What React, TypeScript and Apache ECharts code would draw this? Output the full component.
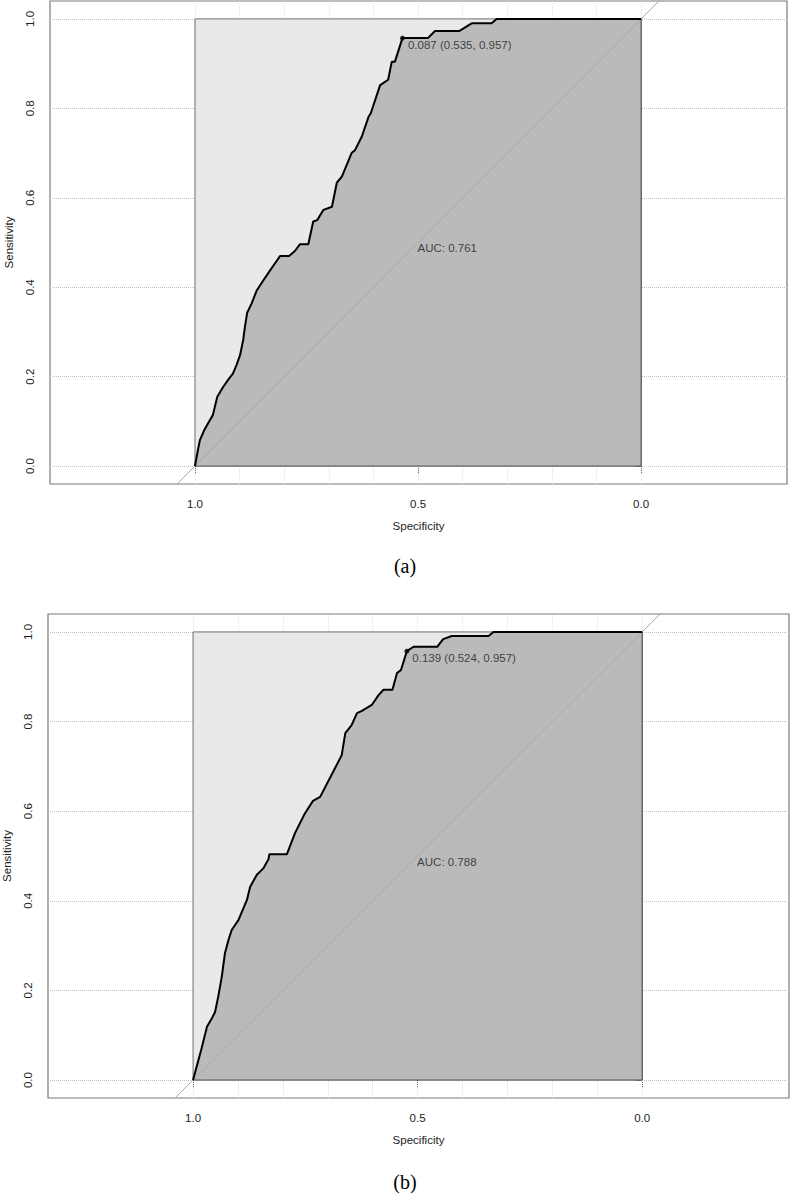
import React, { useEffect, useRef } from "react";
import * as echarts from "echarts";

// ---------- data ----------
// Panel (a) ROC curve: specificity / sensitivity
const specA = [1.000, 0.995, 0.989, 0.980, 0.970, 0.960, 0.950, 0.937, 0.925, 0.915, 0.907, 0.899, 0.892, 0.888, 0.883, 0.873, 0.862, 0.847, 0.832, 0.821, 0.809, 0.789, 0.776, 0.765, 0.746, 0.735, 0.726, 0.712, 0.693, 0.682, 0.671, 0.649, 0.641, 0.626, 0.611, 0.606, 0.585, 0.567, 0.559, 0.552, 0.535, 0.478, 0.462, 0.407, 0.380, 0.335, 0.324, 0.000];
const sensA = [0.000, 0.028, 0.058, 0.079, 0.097, 0.114, 0.155, 0.177, 0.194, 0.207, 0.226, 0.248, 0.282, 0.312, 0.343, 0.364, 0.392, 0.415, 0.437, 0.453, 0.470, 0.470, 0.481, 0.496, 0.496, 0.547, 0.550, 0.573, 0.580, 0.634, 0.647, 0.700, 0.707, 0.737, 0.781, 0.789, 0.852, 0.864, 0.904, 0.904, 0.957, 0.957, 0.973, 0.973, 0.990, 0.990, 1.000, 1.000];
// Panel (b) ROC curve
const specB = [1.000, 0.992, 0.982, 0.969, 0.958, 0.951, 0.944, 0.936, 0.929, 0.921, 0.914, 0.899, 0.888, 0.880, 0.873, 0.858, 0.843, 0.832, 0.830, 0.791, 0.773, 0.751, 0.733, 0.717, 0.688, 0.669, 0.661, 0.647, 0.635, 0.624, 0.602, 0.587, 0.576, 0.556, 0.546, 0.537, 0.524, 0.509, 0.456, 0.443, 0.424, 0.342, 0.331, 0.000];
const sensB = [0.000, 0.030, 0.067, 0.119, 0.138, 0.152, 0.186, 0.231, 0.283, 0.313, 0.335, 0.357, 0.383, 0.402, 0.431, 0.458, 0.473, 0.493, 0.504, 0.504, 0.551, 0.595, 0.623, 0.632, 0.688, 0.725, 0.774, 0.792, 0.819, 0.824, 0.837, 0.859, 0.871, 0.871, 0.908, 0.915, 0.957, 0.967, 0.967, 0.984, 0.991, 0.991, 1.000, 1.000];

// best thresholds: [threshold, specificity, sensitivity]
const thresholdA = [0.087, 0.535, 0.957];
const thresholdB = [0.139, 0.524, 0.957];
const aucValues = [0.761, 0.788];
const panelLabels = ["(a)", "(b)"];

// axes
const xTickValues = [1.0, 0.5, 0.0];
const yTickValues = [0.0, 0.2, 0.4, 0.6, 0.8, 1.0];
const vGridValues = [0.0, 0.1, 0.2, 0.3, 0.4, 0.5, 0.6, 0.7, 0.8, 0.9, 1.0];
const hGridValues = [0.0, 0.2, 0.4, 0.6, 0.8, 1.0];
const xAxisTitle = "Specificity";
const yAxisTitle = "Sensitivity";

// full-area rectangle (max AUC polygon) and identity line
const maxPolySpec = [1, 1, 0, 0];
const maxPolySens = [0, 1, 1, 0];
const aucBorderSpec = [1, 0, 0];
const aucBorderSens = [0, 0, 1];
const diagSpec = [1.5, -0.5];
const diagSens = [-0.5, 1.5];
const aucTextPos = [0.5, 0.5];

const FONT = "'Liberation Sans', Arial, Helvetica, sans-serif";
const zip = (a: number[], b: number[]) => a.map((v, i) => [v, b[i]]);

export default function App() {
  const ref = useRef<HTMLDivElement>(null);

  useEffect(() => {
    if (!ref.current) return;
    const chart = echarts.init(ref.current, undefined, { renderer: "svg" });

    const panels = [
      { spec: specA, sens: sensA, thr: thresholdA, auc: aucValues[0], grid: { left: 50, top: 1, width: 737, height: 483 }, xMin: -0.327, xMax: 1.325, labelY: 566 },
      { spec: specB, sens: sensB, thr: thresholdB, auc: aucValues[1], grid: { left: 48, top: 614, width: 741, height: 484 }, xMin: -0.327, xMax: 1.323, labelY: 1182 },
    ];

    const grids: any[] = [];
    const xAxes: any[] = [];
    const yAxes: any[] = [];
    const series: any[] = [];
    const graphics: any[] = [];

    panels.forEach((p, i) => {
      grids.push({
        ...p.grid,
        show: true,
        borderColor: "#7a7a7a",
        borderWidth: 1.2,
        backgroundColor: "transparent",
        containLabel: false,
        outerBoundsMode: "none",
      });
      xAxes.push({
        type: "value",
        gridIndex: i,
        inverse: true,
        min: p.xMin,
        max: p.xMax,
        axisLine: { show: false },
        splitLine: { show: false },
        axisTick: { show: true, customValues: xTickValues, length: 7, lineStyle: { color: "#6a6a6a", width: 1 } },
        axisLabel: {
          customValues: xTickValues,
          formatter: (v: number) => v.toFixed(1),
          margin: 14,
          fontFamily: FONT,
          fontSize: 11.5,
          color: "#222",
        },
        name: xAxisTitle,
        nameLocation: "middle",
        nameGap: 36,
        nameTextStyle: { fontFamily: FONT, fontSize: 11.5, color: "#222" },
      });
      yAxes.push({
        type: "value",
        gridIndex: i,
        min: -0.04,
        max: 1.04,
        axisLine: { show: false },
        splitLine: { show: false },
        axisTick: { show: true, customValues: yTickValues, length: 7, lineStyle: { color: "#6a6a6a", width: 1 } },
        axisLabel: {
          customValues: yTickValues,
          formatter: (v: number) => v.toFixed(1),
          rotate: 90,
          margin: 14,
          fontFamily: FONT,
          fontSize: 11.5,
          color: "#222",
        },
        name: yAxisTitle,
        nameLocation: "middle",
        nameGap: 35,
        nameTextStyle: { fontFamily: FONT, fontSize: 11.5, color: "#222" },
      });

      const common = { xAxisIndex: i, yAxisIndex: i, animation: false, silent: true };

      // grid lines
      series.push({
        ...common,
        type: "line",
        data: [],
        markLine: {
          z: 1,
          silent: true,
          animation: false,
          symbol: ["none", "none"],
          label: { show: false },
          lineStyle: { color: "#c2c2c2", type: "dotted", width: 1 },
          data: hGridValues.map((v) => ({ yAxis: v })),
        },
      });
      series.push({
        ...common,
        type: "line",
        data: [],
        markLine: {
          z: 1,
          silent: true,
          animation: false,
          symbol: ["none", "none"],
          label: { show: false },
          lineStyle: { color: "#e2e2e2", type: "dotted", width: 1 },
          data: vGridValues.map((v) => ({ xAxis: v })),
        },
      });
      // max AUC polygon
      series.push({
        ...common,
        type: "line",
        z: 2,
        symbol: "none",
        data: zip(maxPolySpec, maxPolySens),
        lineStyle: { color: "#707070", width: 1 },
        areaStyle: { color: "#e9e9e9", opacity: 1 },
      });
      // AUC polygon fill
      series.push({
        ...common,
        type: "line",
        z: 3,
        symbol: "none",
        data: zip(p.spec, p.sens),
        lineStyle: { opacity: 0, width: 0 },
        areaStyle: { color: "#bababa", opacity: 1 },
      });
      // AUC polygon border (bottom / right)
      series.push({
        ...common,
        type: "line",
        z: 3,
        symbol: "none",
        data: zip(aucBorderSpec, aucBorderSens),
        lineStyle: { color: "#4a4a4a", width: 1 },
      });
      // identity line
      series.push({
        ...common,
        type: "line",
        z: 4,
        symbol: "none",
        clip: true,
        data: zip(diagSpec, diagSens),
        lineStyle: { color: "#a9a9a9", width: 1 },
      });
      // ROC curve
      series.push({
        ...common,
        type: "line",
        z: 5,
        symbol: "none",
        data: zip(p.spec, p.sens),
        lineStyle: { color: "#000", width: 2 },
      });
      // threshold point
      series.push({
        ...common,
        type: "scatter",
        z: 6,
        symbol: "circle",
        symbolSize: 5,
        itemStyle: { color: "#000" },
        data: [[p.thr[1], p.thr[2]]],
        label: {
          show: true,
          position: [8, 3],
          align: "left",
          verticalAlign: "top",
          fontFamily: FONT,
          fontSize: 11.5,
          color: "#1a1a1a",
          formatter: () => `${p.thr[0].toFixed(3)} (${p.thr[1].toFixed(3)}, ${p.thr[2].toFixed(3)})`,
        },
      });
      // AUC text
      series.push({
        ...common,
        type: "scatter",
        z: 6,
        symbol: "circle",
        symbolSize: 1,
        itemStyle: { color: "transparent" },
        data: [aucTextPos],
        label: {
          show: true,
          position: [0, 0],
          align: "left",
          verticalAlign: "top",
          fontFamily: FONT,
          fontSize: 11.5,
          color: "#1a1a1a",
          formatter: () => `AUC: ${p.auc.toFixed(3)}`,
        },
      });

      graphics.push({
        type: "text",
        x: 405,
        y: p.labelY,
        style: {
          text: panelLabels[i],
          fontFamily: "'Liberation Serif', 'Times New Roman', serif",
          fontSize: 20,
          fill: "#000",
          textAlign: "center",
          textVerticalAlign: "middle",
        },
      });
    });

    chart.setOption({
      animation: false,
      backgroundColor: "#fff",
      grid: grids,
      xAxis: xAxes,
      yAxis: yAxes,
      series,
      graphic: graphics,
    });

    return () => chart.dispose();
  }, []);

  return (
    <div
      ref={ref}
      style={{ position: "absolute", left: 0, top: 0, width: 790, height: 1193, background: "#fff" }}
    />
  );
}
